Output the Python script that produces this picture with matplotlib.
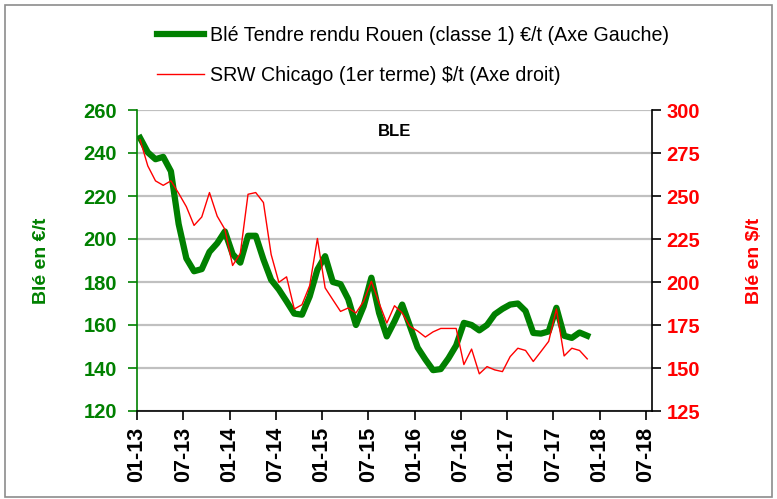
import matplotlib
matplotlib.use("Agg")
from matplotlib import pyplot as plt
from matplotlib.patches import Rectangle

plt.rcParams['font.family'] = ['Liberation Sans', 'DejaVu Sans']

# mois depuis janvier 2013 (0 = 01-13)
mois = list(range(59))

# Blé tendre rendu Rouen, €/t (axe gauche)
ble_rouen = [247, 240.3, 237.1, 238.2, 231.5, 207, 191, 185, 186, 194,
             198, 203.5, 193, 189, 201.5, 201.5, 190.5, 181, 176.5, 171,
             165.3, 164.8, 173.3, 185.8, 192, 180, 179, 172, 160, 168.7,
             182, 165.6, 154.7, 161.7, 169.5, 159.5, 149.5, 144, 139, 139.5,
             144.5, 150.5, 161, 160, 157.5, 160, 165, 167.5, 169.5, 170,
             166.5, 156.3, 156, 157, 168, 155, 154, 156.5, 155]

# SRW Chicago 1er terme, $/t (axe droit)
srw_chicago = [282.7, 267.5, 258.8, 256.2, 258.8, 251.6, 243.8, 232.9, 237.8, 252,
               238.3, 230.6, 209.6, 216.6, 251, 252, 246.2, 216, 199.8, 203,
               184.3, 186.8, 197.9, 225.3, 196.6, 189.7, 182.9, 184.9, 182, 188.8,
               200.4, 187.8, 176.1, 186.2, 182, 174.2, 171.5, 168, 171, 173,
               173, 173, 152, 161, 146.6, 150.8, 148.9, 147.9, 156.6, 161.5,
               160.2, 153.8, 159.6, 165.5, 184.3, 157, 161.5, 160.2, 155.3]

ticks_x = [0, 6, 12, 18, 24, 30, 36, 42, 48, 54, 60, 66]
labels_x = ['01-13', '07-13', '01-14', '07-14', '01-15', '07-15',
            '01-16', '07-16', '01-17', '07-17', '01-18', '07-18']

vert = '#008000'
rouge = '#ff0000'

fig = plt.figure(figsize=(7.77, 4.99), dpi=100)
fig.patches.append(Rectangle((5 / 777, 0.004), 767 / 777, 1 - 5 / 499 - 0.004,
                             transform=fig.transFigure, fill=False,
                             edgecolor='#8c8c8c', linewidth=1.2))

ax = fig.add_axes([137 / 777, 1 - 411 / 499, 515 / 777, 301 / 499])
ax2 = ax.twinx()

x = [m + 0.4 for m in mois]
l1, = ax.plot(x, ble_rouen, color=vert, linewidth=4.5, solid_joinstyle='round',
              label='Blé Tendre rendu Rouen (classe 1) €/t (Axe Gauche)', zorder=3)
l2, = ax2.plot(x, srw_chicago, color=rouge, linewidth=1.0,
               label='SRW Chicago (1er terme) $/t (Axe droit)')

# axe gauche
ax.set_ylim(120, 260)
ax.set_yticks(range(120, 261, 20))
ax.set_xlim(0, 66.8)
ax.set_xticks(ticks_x)
ax.set_xticklabels(labels_x, rotation=90, fontweight='bold', fontsize=15.5)
ax.yaxis.grid(True, color='#c0c0c0', linewidth=1.6)
ax.set_axisbelow(True)
ax.tick_params(axis='y', colors=vert, labelsize=14.5, length=6.5, width=1.2, pad=8)
ax.tick_params(axis='x', length=6.5, width=1.2, pad=5)
for t in ax.get_yticklabels():
    t.set_fontweight('bold')
ax.spines['left'].set_color(vert)
ax.spines['left'].set_linewidth(1.2)
ax.spines['top'].set_visible(False)
ax.spines['right'].set_visible(False)
ax.spines['bottom'].set_linewidth(1.2)
ax.set_ylabel('Blé en €/t', color=vert, fontweight='bold', fontsize=14, labelpad=24)

# axe droit
ax2.set_ylim(125, 300)
ax2.set_yticks(range(125, 301, 25))
ax2.tick_params(axis='y', colors='black', labelcolor=rouge, labelsize=14.5,
                length=6.5, width=1.2, pad=4)
for t in ax2.get_yticklabels():
    t.set_fontweight('bold')
ax2.spines['right'].set_linewidth(1.2)
ax2.spines['top'].set_visible(False)
ax2.spines['left'].set_visible(False)
ax2.spines['bottom'].set_visible(False)
ax2.set_ylabel('Blé en $/t', color=rouge, fontweight='bold', fontsize=14,
               rotation=90, labelpad=33)

ax.text(0.5, 0.955, 'BLE', transform=ax.transAxes, ha='center', va='top',
        fontweight='bold', fontsize=12)

fig.legend(handles=[l1, l2], loc='upper left', bbox_to_anchor=(139 / 777, 1 - 8 / 499),
           frameon=False, fontsize=14.15, handlelength=2.4, handletextpad=0.3,
           labelspacing=1.1)

fig.savefig('out.png', dpi=100)
